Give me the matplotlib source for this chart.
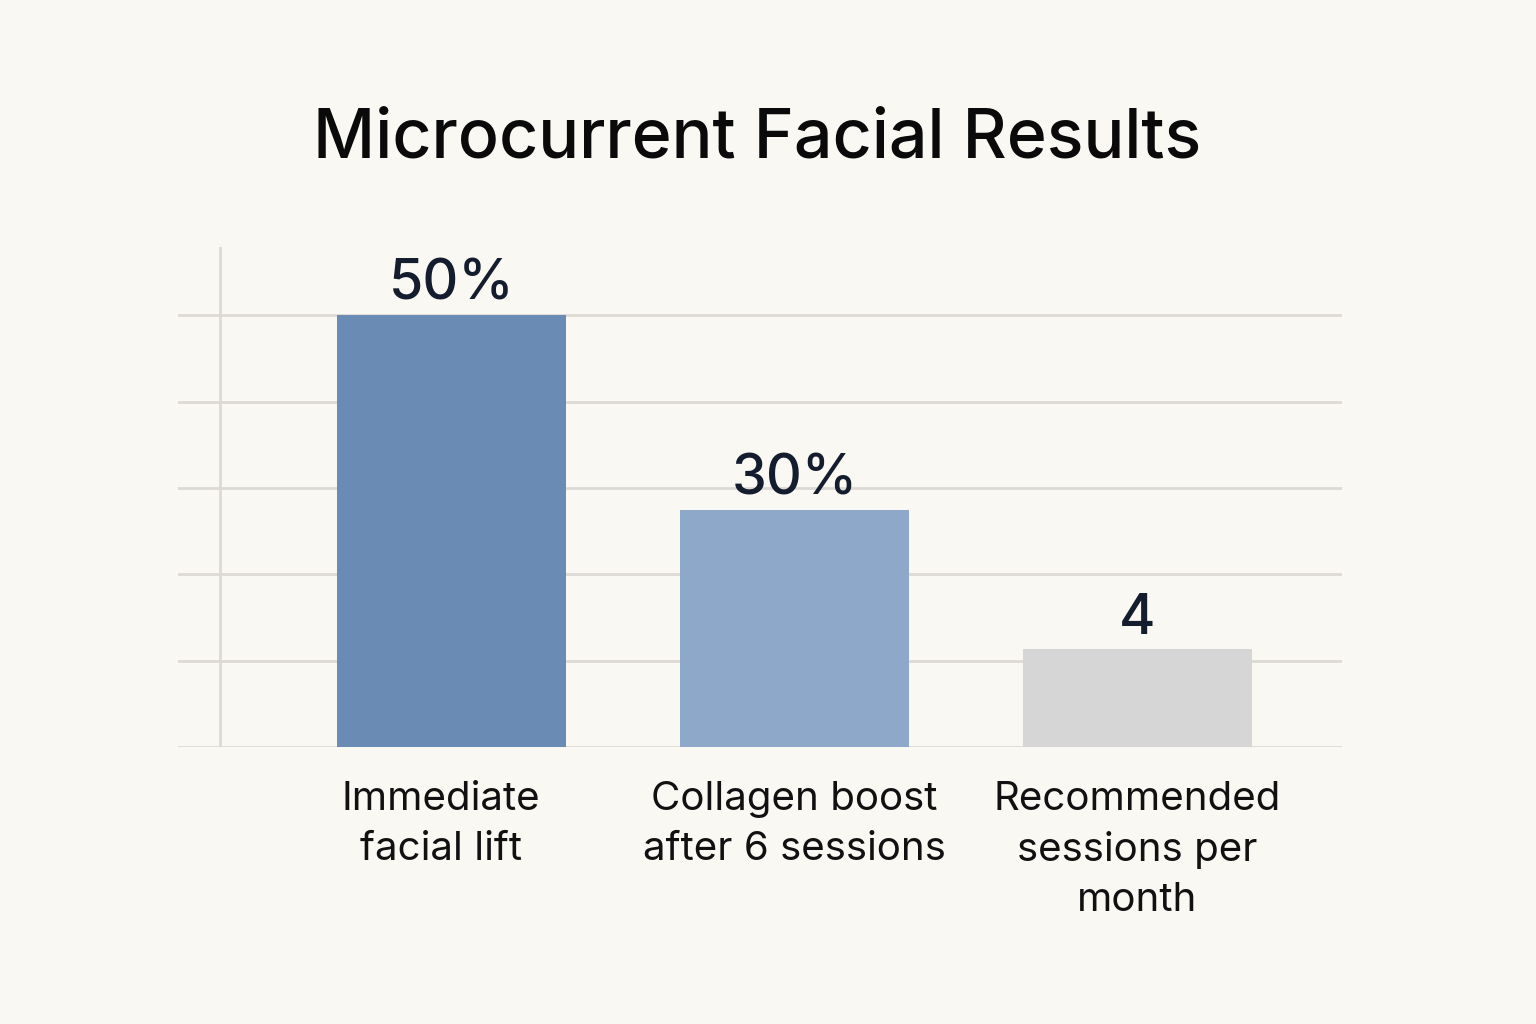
import matplotlib.pyplot as plt

# chart data
categories = ['Immediate\nfacial lift', 'Collagen boost\nafter 6 sessions', 'Recommended\nsessions per\nmonth']
bar_heights = [50, 27.5, 11.3]
value_labels = ['50%', '30%', '4']
bar_colors = ['#6A8BB3', '#8DA8C9', '#D6D6D6']
grid_levels = [0, 10, 20, 30, 40, 50]

plt.rcParams['font.family'] = ['Inter', 'DejaVu Sans']

bg = '#FAF8F3'
grid_col = '#DDDAD5'
text_col = '#141D2E'

fig = plt.figure(figsize=(15.36, 10.24), dpi=100, facecolor=bg)
ax = fig.add_axes([178 / 1536, 277 / 1024, 1164 / 1536, 500 / 1024])
ax.set_facecolor(bg)

x = list(range(len(categories)))

for lvl in grid_levels:
    ax.axhline(lvl, color=grid_col, linewidth=2, zorder=1)
ax.axvline(-0.675, color=grid_col, linewidth=2, zorder=1)

ax.bar(x, bar_heights, width=0.668, color=bar_colors, zorder=2)

for xi, h, lab in zip(x, bar_heights, value_labels):
    ax.text(xi, h + 0.5, lab, ha='center', va='bottom', fontsize=40,
            color=text_col, fontweight='medium')

for xi, cat in zip(x, categories):
    ax.text(xi - (0.03 if xi == 0 else 0), -3.9, cat, ha='center', va='top', fontsize=29,
            color='#111111', linespacing=1.45)

ax.set_xlim(-0.797, 2.596)
ax.set_ylim(0, 57.9)
for s in ax.spines.values():
    s.set_visible(False)
ax.set_xticks([])
ax.set_yticks([])

fig.text(757 / 1536, 1 - 140 / 1024, 'Microcurrent Facial Results', ha='center', va='center',
         fontsize=49, color='#0A0A0A', fontweight='medium')

fig.savefig('out.png', dpi=100, facecolor=bg)
